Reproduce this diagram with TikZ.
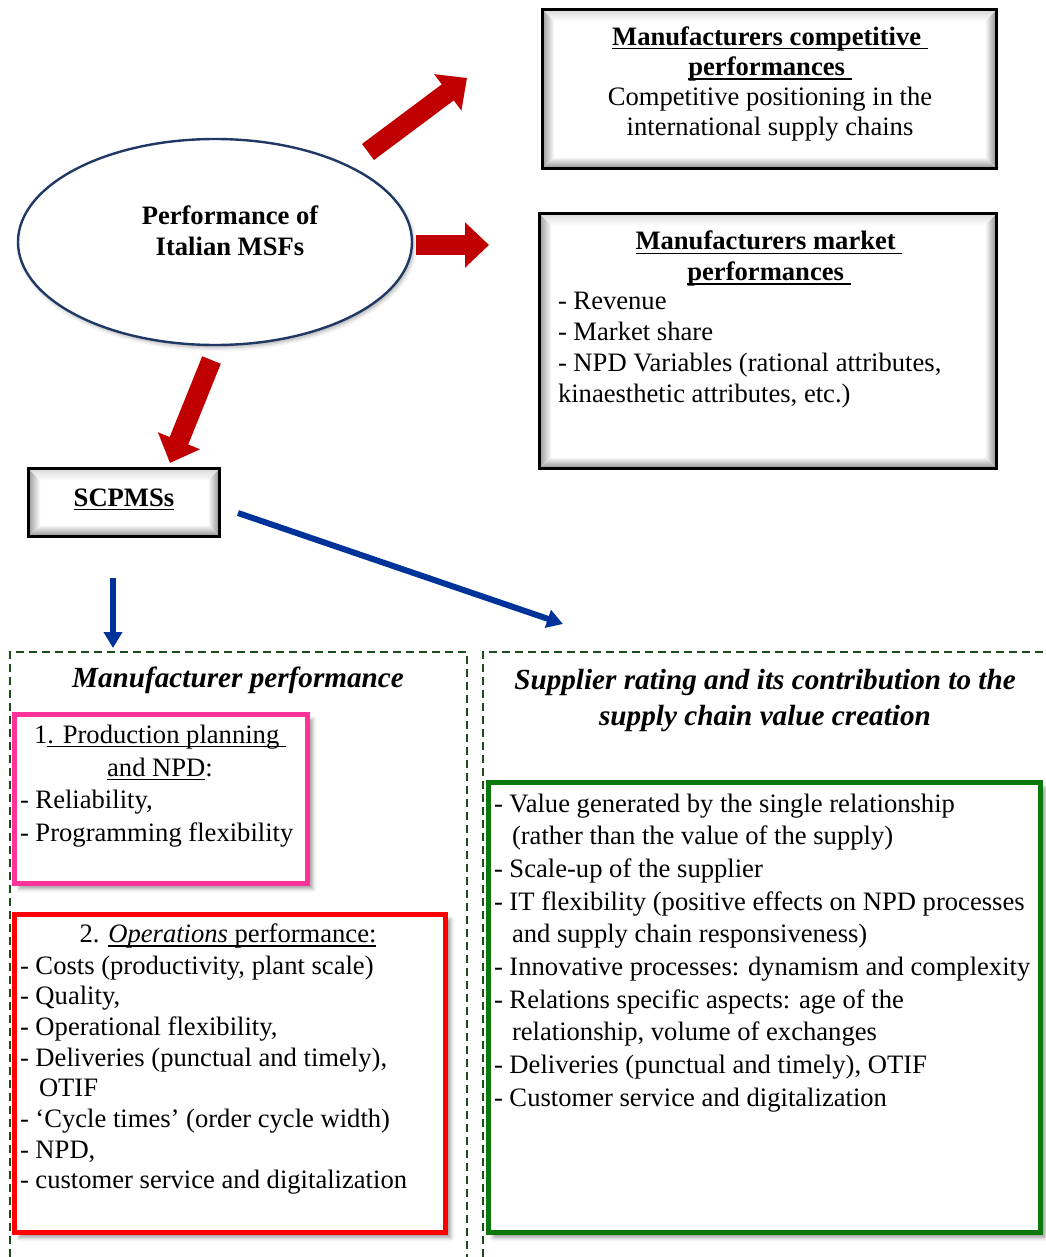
\documentclass[tikz,border=0pt]{standalone}
\usepackage{fontspec}
\setmainfont{Liberation Serif}
\usetikzlibrary{arrows.meta,shapes.geometric,calc,shadows.blur}

\definecolor{arrowred}{RGB}{192,0,0}
\definecolor{arrowblue}{RGB}{0,51,153}
\definecolor{navyline}{RGB}{31,56,100}
\definecolor{dashgreen}{RGB}{26,77,26}
\definecolor{boxpink}{RGB}{255,51,153}
\definecolor{boxred}{RGB}{255,0,0}
\definecolor{boxgreen}{RGB}{10,120,10}

% underline drawn at a fixed depth below the baseline
\newsavebox{\undlbox}
\newcommand{\undl}[1]{\sbox{\undlbox}{#1}\rlap{\rule[-2.2pt]{\wd\undlbox}{0.8pt}}\usebox{\undlbox}}

\tikzset{
  txt/.style={inner sep=0pt, outer sep=0pt},
  bevelbox/.style={draw=black, line width=1.3pt, fill=white, inner sep=0pt, outer sep=0pt,
    anchor=north west,
    path picture={
      \coordinate (pa) at (path picture bounding box.north west);
      \coordinate (pb) at (path picture bounding box.north east);
      \coordinate (pc) at (path picture bounding box.south east);
      \coordinate (pd) at (path picture bounding box.south west);
      \shade[left color=gray!80, right color=white]
        (pa) -- (pd) -- ($(pd)+(6pt,6pt)$) -- ($(pa)+(6pt,-6pt)$) -- cycle;
      \shade[left color=white, right color=gray!90]
        (pb) -- (pc) -- ($(pc)+(-6pt,6pt)$) -- ($(pb)+(-6pt,-6pt)$) -- cycle;
      \shade[top color=white, bottom color=gray!90]
        (pd) -- (pc) -- ($(pc)+(-6pt,6pt)$) -- ($(pd)+(6pt,6pt)$) -- cycle;
      \shade[top color=gray!30, bottom color=white]
        (pa) -- (pb) -- ($(pb)+(-6pt,-6pt)$) -- ($(pa)+(6pt,-6pt)$) -- cycle;
    }},
  cbox/.style={draw=#1, line width=2.5pt, fill=white, inner sep=0pt, outer sep=0pt,
    anchor=north west,
    blur shadow={shadow xshift=2.5pt, shadow yshift=-2.5pt, shadow opacity=40,
      shadow blur radius=2pt}},
  dashframe/.style={draw=dashgreen, line width=1pt, dash pattern=on 4pt off 2.5pt},
  redarrow/.style={draw=arrowred, line width=10pt, -{Triangle[length=12pt,width=22pt]}},
  bluearrow/.style={draw=arrowblue, line width=3pt, -{Triangle[length=8pt,width=9pt]}},
}

\begin{document}
\begin{tikzpicture}[x=0.5pt, y=-0.5pt]
\useasboundingbox (0,0) rectangle (1045,1257);

% ---- dashed frames of the two lower panels
\draw[dashframe] (10,1257) -- (10,652) -- (467,652) -- (467,1257);
\draw[dashframe] (483,1257) -- (483,652) -- (1045,652);

% ---- central ellipse
\node[ellipse, draw=navyline, line width=1.2pt, fill=white, inner sep=0pt,
      minimum width=197pt, minimum height=103pt,
      blur shadow={shadow xshift=1pt, shadow yshift=-1.5pt, shadow opacity=30}]
      (msf) at (215,242) {};
\node[txt, anchor=north, align=center, font=\fontsize{13.3}{15.5}\selectfont\bfseries]
      (msftext) at (230,203.3) {\strut Performance of\\Italian MSFs};

% ---- competitive performance box
\node[bevelbox, minimum width=227.2pt, minimum height=79.7pt] (compet) at (542.3,9.3) {};
\node[txt, anchor=north, align=center, font=\fontsize{13.3}{15.15}\selectfont]
      (compettext) at (770,23.8)
      {\strut\textbf{\undl{Manufacturers competitive\ }}\\
       \textbf{\undl{performances\ }}\\
       Competitive positioning in the\\
       international supply chains};

% ---- market performance box
\node[bevelbox, minimum width=228.7pt, minimum height=127.7pt] (market) at (539.3,213.3) {};
\node[txt, anchor=north, align=center, font=\fontsize{13.3}{15.15}\selectfont\bfseries]
      (markettitle) at (769,228.7)
      {\strut\undl{Manufacturers market\ }\\\undl{performances\ }};
\node[txt, anchor=north west, align=left, font=\fontsize{13.3}{15.35}\selectfont]
      (marketlist) at (558,288.5)
      {\strut- Revenue\\
       - Market share\\
       - NPD Variables (rational attributes,\\
       kinaesthetic attributes, etc.)};

% ---- SCPMSs box
\node[bevelbox, minimum width=95.7pt, minimum height=34.2pt] (scp) at (28.3,468.3) {};
\node[txt, anchor=base, font=\fontsize{13.3}{15.3}\selectfont\bfseries]
      (scptext) at (124,506) {\undl{SCPMSs}};

% ---- red block arrows from the ellipse
\coordinate (r1s) at (368,152);
\coordinate (r1e) at (467,78);
\coordinate (r2s) at (416,245);
\coordinate (r2e) at (489,245);
\coordinate (r3s) at (211.5,360);
\coordinate (r3e) at (170,463);
\draw[redarrow] (r1s) -- (r1e);
\draw[redarrow] (r2s) -- (r2e);
\draw[redarrow] (r3s) -- (r3e);

% ---- blue arrows from SCPMSs
\coordinate (b1s) at (238,513);
\coordinate (b1e) at (563,624);
\coordinate (b2s) at (113,578);
\coordinate (b2e) at (113,648);
\draw[bluearrow] (b1s) -- (b1e);
\draw[bluearrow] (b2s) -- (b2e);

% ---- panel titles
\node[txt, anchor=base, font=\fontsize{14.6}{18}\selectfont\bfseries\itshape]
      (mantitle) at (238,687) {Manufacturer performance};
\node[txt, anchor=north, align=center, font=\fontsize{14.6}{18}\selectfont\bfseries\itshape]
      (suptitle) at (765,663.8)
      {\strut Supplier rating and its contribution to the\\supply chain value creation};

% ---- production planning box
\node[cbox=boxpink, minimum width=146.5pt, minimum height=84.5pt] (plan) at (14.5,714.5) {};
\node[txt, anchor=north, align=center, font=\fontsize{13.3}{16.5}\selectfont]
      (plantitle) at (160,719.9)
      {\strut 1\undl{. Production planning\ }\\\undl{and NPD}:};
\node[txt, anchor=north west, align=left, font=\fontsize{13.3}{16.5}\selectfont]
      (planlist) at (20,784.9)
      {\strut- Reliability,\\- Programming flexibility};

% ---- operations performance box
\node[cbox=boxred, minimum width=215.5pt, minimum height=159pt] (ops) at (14.5,914.5) {};
\node[txt, anchor=base, font=\fontsize{13.3}{15.35}\selectfont]
      (opstitle) at (228,942.5) {2. \undl{\textit{Operations} performance:}};
\node[txt, anchor=north west, align=left, font=\fontsize{13.3}{15.35}\selectfont]
      (opslist) at (20,952.5)
      {\strut- Costs (productivity, plant scale)\\
       - Quality,\\
       - Operational flexibility,\\
       - Deliveries (punctual and timely),\\
       \hspace*{9.5pt}OTIF\\
       - `Cycle times' (order cycle width)\\
       - NPD,\\
       - customer service and digitalization};

% ---- supplier rating box
\node[cbox=boxgreen, minimum width=276pt, minimum height=225pt] (supp) at (488.5,782.5) {};
\node[txt, anchor=north west, align=left, font=\fontsize{13.3}{16.35}\selectfont]
      (supplist) at (494,789.1)
      {\strut- Value generated by the single relationship\\
       \hspace*{9pt}(rather than the value of the supply)\\
       - Scale-up of the supplier\\
       - IT flexibility (positive effects on NPD processes\\
       \hspace*{9pt}and supply chain responsiveness)\\
       - Innovative processes: dynamism and complexity\\
       - Relations specific aspects: age of the\\
       \hspace*{9pt}relationship, volume of exchanges\\
       - Deliveries (punctual and timely), OTIF\\
       - Customer service and digitalization};

\end{tikzpicture}
\end{document}
